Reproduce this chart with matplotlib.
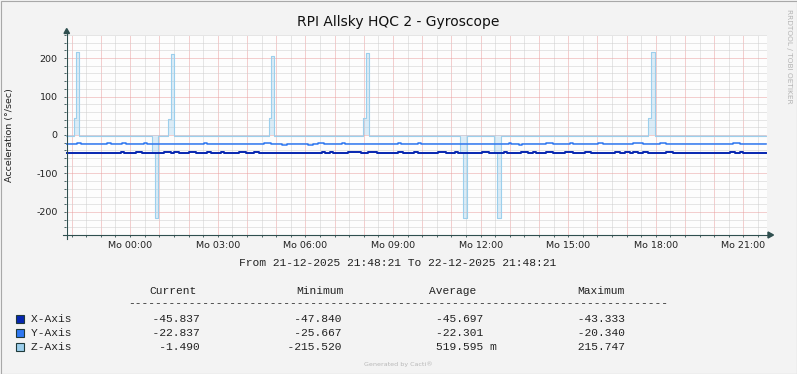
import matplotlib
matplotlib.use("Agg")
import matplotlib.pyplot as plt
from matplotlib.lines import Line2D
from matplotlib.patches import Polygon, Rectangle

W, H = 797, 374

title = "RPI Allsky HQC 2 - Gyroscope"
ylabel = "Acceleration (°/sec)"
period = "From 21-12-2025 21:48:21 To 22-12-2025 21:48:21"
hour_labels = ["Mo 00:00", "Mo 03:00", "Mo 06:00", "Mo 09:00",
               "Mo 12:00", "Mo 15:00", "Mo 18:00", "Mo 21:00"]

names = ["X-Axis", "Y-Axis", "Z-Axis"]
colors = ["#0626b0", "#2f78f2", "#9ccfec"]
cur_vals = [-45.837, -22.837, -1.490]
min_vals = [-47.840, -25.667, -215.520]
avg_vals = [-45.697, -22.301, 0.519595]
max_vals = [-43.333, -20.340, 215.747]

# minutes since 21:48:21, value (step changes)
x_t = [0, 113, 119, 144, 156, 202, 216, 222, 232, 253, 267, 290, 298, 319, 325,
       356, 370, 387, 397, 498, 508, 525, 533, 543, 549, 580, 607, 621, 638,
       683, 693, 714, 724, 765, 780, 800, 806, 854, 868, 899, 905, 934, 950,
       959, 965, 985, 1000, 1026, 1041, 1066, 1078, 1127, 1138, 1148, 1158,
       1164, 1175, 1185, 1195, 1232, 1247, 1333, 1337, 1364, 1374, 1384, 1391,
       1438]
x_v = [-46.0, -44.2, -46.0, -44.2, -46.0, -44.2, -46.0, -44.2, -46.0, -44.2,
       -46.0, -44.2, -46.0, -44.2, -46.0, -44.2, -46.0, -44.2, -46.0, -47.8,
       -46.0, -44.2, -46.0, -44.2, -46.0, -44.2, -46.0, -44.2, -46.0, -44.2,
       -46.0, -44.2, -46.0, -44.2, -46.0, -44.2, -46.0, -44.2, -46.0, -44.2,
       -46.0, -44.2, -46.0, -44.2, -46.0, -44.2, -46.0, -44.2, -46.0, -44.2,
       -46.0, -44.2, -46.0, -44.2, -46.0, -44.2, -46.0, -44.2, -46.0, -44.2,
       -46.0, -47.8, -46.0, -44.2, -46.0, -44.2, -46.0, -45.8]

y_t = [0, 23, 31, 84, 93, 115, 123, 160, 167, 284, 290, 407, 422, 444, 455,
       498, 508, 518, 529, 566, 574, 683, 689, 724, 730, 909, 915, 930, 936,
       985, 1000, 1035, 1041, 1092, 1103, 1164, 1185, 1220, 1232, 1370, 1384,
       1426, 1438]
y_v = [-22.5, -20.5, -22.5, -20.5, -22.5, -20.5, -22.5, -20.5, -22.5, -20.5,
       -22.5, -20.5, -22.5, -25.0, -22.5, -25.0, -22.5, -20.5, -22.5, -20.5,
       -22.5, -20.5, -22.5, -20.5, -22.5, -20.5, -22.5, -25.0, -22.5, -20.5,
       -22.5, -20.5, -22.5, -20.5, -22.5, -20.5, -22.5, -20.5, -22.5, -20.5,
       -22.5, -24.0, -22.8]

z_t = [0, 16, 20, 26, 60, 66, 176, 182, 188, 210, 216, 222, 250, 256, 330,
       336, 416, 422, 428, 520, 526, 611, 617, 623, 700, 706, 810, 816, 823,
       880, 886, 893, 960, 966, 1100, 1106, 1195, 1201, 1210, 1300, 1306,
       1400, 1406, 1438]
z_v = [-1.5, 45, 215, -1.5, -3.5, -1.5, -45, -215, -1.5, 42, 211, -1.5, -3.5,
       -1.5, -3.5, -1.5, 44, 205, -1.5, -3.5, -1.5, 44, 213, -1.5, -3.5, -1.5,
       -45, -215.5, -1.5, -45, -215, -1.5, -3.5, -1.5, -3.5, -1.5, 45, 215.7,
       -1.5, -3.5, -1.5, -3.5, -1.5, -1.5]


def fx(px):
    return px / W


def fy(py):
    return 1 - py / H


axis_col = "#2f4f4f"
fig = plt.figure(figsize=(W / 100, H / 100), dpi=100)
fig.patch.set_facecolor("#f3f3f3")

ax = fig.add_axes([fx(66), fy(235), 701 / W, 200 / H])
ax.set_facecolor("#fdfdfd")
for s in ax.spines.values():
    s.set_visible(False)

first_hour = 11 + 39 / 60
hours = [first_hour + 60 * i for i in range(24)]
halves = [first_hour + 30 + 60 * i for i in range(24)]
ax.set_xticks(hours)
ax.set_xticks(halves, minor=True)
ax.set_xticklabels(["" if (i - 2) % 3 else hour_labels[(i - 2) // 3]
                    for i in range(24)])
ax.set_yticks([-200, -100, 0, 100, 200])
ax.set_yticks(range(-260, 261, 20), minor=True)
ax.set_yticklabels(["-200", "-100", "0", "100", "200"])
ax.set_xlim(0, 1440)
ax.set_ylim(-260, 260)
ax.tick_params(which="both", direction="out", length=1.5, width=0.6,
               color=axis_col, labelsize=6.8, labelcolor="#222222")
ax.tick_params(axis="y", pad=4.5)
ax.tick_params(axis="x", pad=2.5)
ax.grid(which="major", color="#eaa0a0", lw=0.72, ls=(0, (1, 1)))
ax.grid(which="minor", color="#cfcfcf", lw=0.72, ls=(0, (1, 1)))
ax.set_axisbelow(True)

ax.fill_between(z_t, z_v, 0, step="post", color=colors[2], alpha=0.35, lw=0)
ax.plot(z_t, z_v, drawstyle="steps-post", color=colors[2], lw=0.8)
ax.plot(y_t, y_v, drawstyle="steps-post", color=colors[1], lw=1.1)
ax.plot(x_t, x_v, drawstyle="steps-post", color=colors[0], lw=1.4)

# axes with arrows
fig.add_artist(Line2D([fx(66.7), fx(66.7)], [fy(239), fy(32)], color=axis_col, lw=0.8))
fig.add_artist(Line2D([fx(63), fx(769)], [fy(235), fy(235)], color=axis_col, lw=0.8))
fig.add_artist(Polygon([(fx(64), fy(33.5)), (fx(69.5), fy(33.5)), (fx(66.7), fy(28.5))],
                       closed=True, color=axis_col, transform=fig.transFigure))
fig.add_artist(Polygon([(fx(768), fy(232)), (fx(768), fy(238)), (fx(773.5), fy(235))],
                       closed=True, color=axis_col, transform=fig.transFigure))

fig.text(fx(398), fy(22), title, ha="center", va="center", fontsize=10, color="#111111")
fig.text(fx(10), fy(135), ylabel, ha="center", va="center", rotation=90,
         fontsize=6.8, color="#222222")
fig.text(fx(789), fy(56), "RRDTOOL / TOBI OETIKER", ha="center", va="center",
         rotation=270, fontsize=5.3, color="#b4b4b4")
fig.text(fx(398), fy(364), "Generated by Cacti®", ha="center", va="center",
         fontsize=4.6, color="#b8b8b8")

mono = dict(family="Liberation Mono", fontsize=8.1, color="#222222", va="center")
fig.text(fx(397.5), fy(263), period, ha="center", **mono)
for lab, cx in zip(["Current", "Minimum", "Average", "Maximum"], [173, 320, 453, 601]):
    fig.text(fx(cx), fy(291), lab, ha="center", **mono)
fig.text(fx(128), fy(303), "-" * 80, ha="left", **mono)


def fmt(v):
    if v != 0 and abs(v) < 1:
        return "%8.3f m" % (v * 1000)
    return "%8.3f  " % v


for i, name in enumerate(names):
    ry = 319 + 14 * i
    fig.add_artist(Rectangle((fx(15.5), fy(ry + 4)), 8 / W, 8 / H, facecolor=colors[i],
                             edgecolor="#1f3a3a", lw=0.8, transform=fig.transFigure))
    line = name.ljust(17) + "".join(fmt(v).ljust(21) for v in
                                    [cur_vals[i], min_vals[i], avg_vals[i], max_vals[i]])
    fig.text(fx(30.5), fy(ry), line.rstrip(), ha="left", **mono)

fig.add_artist(Rectangle((0.5 / W, 0.5 / H), (W - 1) / W, (H - 1) / H, fill=False,
                         edgecolor="#a8a8a8", lw=0.8, transform=fig.transFigure))

fig.savefig("out.png", dpi=100, facecolor=fig.get_facecolor())
